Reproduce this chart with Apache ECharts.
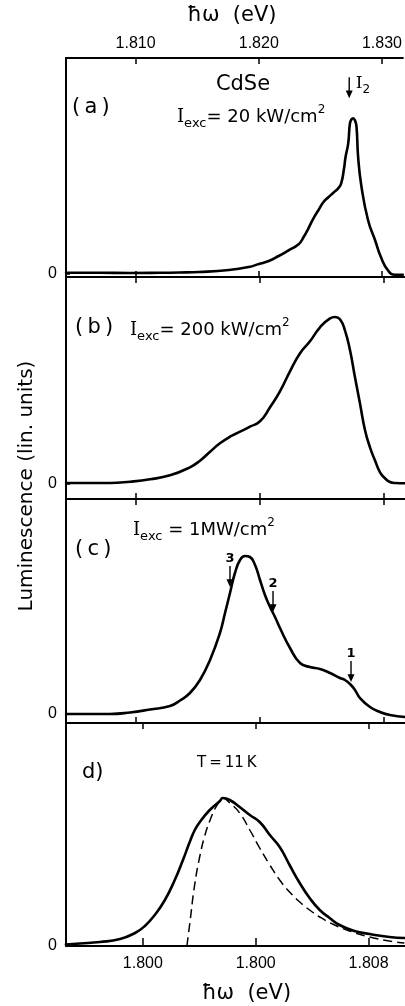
<!DOCTYPE html>
<html>
<head>
<meta charset="utf-8">
<title>CdSe luminescence</title>
<script src="https://cdn.jsdelivr.net/npm/echarts@6/dist/echarts.min.js"></script>
<style>
html, body { margin: 0; padding: 0; background: #fff; }
#chart { width: 405px; height: 1006px; }
</style>
</head>
<body>
<div id="chart"></div>
<script>
// energy scales (eV): panels a-c share the top scale, panel d has its own
const topTicks = [1.810, 1.820, 1.830];
const topTickLabels = ['1.810', '1.820', '1.830'];
const bottomTicks = [1.800, 1.804, 1.808];
const bottomTickLabels = ['1.800', '1.800', '1.808'];

// (a) Iexc = 20 kW/cm2
const energyA = [1.80436, 1.80710, 1.80952, 1.81194, 1.81355, 1.81516, 1.81758, 1.81919, 1.82000, 1.82081,
    1.82161, 1.82242, 1.82323, 1.82363, 1.82403, 1.82444, 1.82484, 1.82524, 1.82565, 1.82605,
    1.82645, 1.82669, 1.82691, 1.82704, 1.82726, 1.82740, 1.82753, 1.82766, 1.82780, 1.82793,
    1.82806, 1.82833, 1.82887, 1.82944, 1.82992, 1.83048, 1.83105, 1.83169];
const lumA = [0.5, 0.5, 0.3, 0.5, 0.8, 1.3, 3.3, 6.3, 9.3, 12.3,
    17.3, 23, 29, 36, 45, 55, 63, 71, 76, 80.5,
    85, 90, 104, 116, 130, 150, 154, 155, 153, 147,
    117, 87, 53, 33, 16, 3, -1.5, -1.5];

// (b) Iexc = 200 kW/cm2
const energyB = [1.80436, 1.80790, 1.80952, 1.81113, 1.81274, 1.81435, 1.81516, 1.81597, 1.81677, 1.81758,
    1.81839, 1.81919, 1.82000, 1.82081, 1.82161, 1.82242, 1.82323, 1.82403, 1.82484, 1.82565,
    1.82605, 1.82645, 1.82685, 1.82726, 1.82766, 1.82806, 1.82847, 1.82887, 1.82927, 1.82968,
    1.83008, 1.83048, 1.83089, 1.83169];
const lumB = [0.3, 0.3, 1.6, 4, 8, 16, 22.6, 31.6, 40, 46.6,
    51.6, 56.6, 62, 76, 92, 112, 130, 142, 156, 165,
    166.3, 164, 153, 133, 106, 80, 53, 36, 23, 11,
    5, 1.3, 0.3, 0];

// (c) Iexc = 1 MW/cm2
const energyC = [1.80436, 1.80790, 1.80952, 1.81113, 1.81274, 1.81355, 1.81435, 1.81516, 1.81597, 1.81677,
    1.81718, 1.81758, 1.81798, 1.81839, 1.81879, 1.81919, 1.81960, 1.82000, 1.82040, 1.82081,
    1.82121, 1.82161, 1.82242, 1.82323, 1.82403, 1.82484, 1.82565, 1.82645, 1.82685, 1.82726,
    1.82766, 1.82806, 1.82887, 1.82968, 1.83048, 1.83169];
const lumC = [0, 0, 1.5, 4.5, 8, 13.5, 21, 34, 54, 81,
    101, 121, 141, 154, 158, 157, 149, 134, 119, 107,
    97, 86, 66, 51, 47, 45, 41, 36, 34, 30,
    24, 16, 7, 2, -1, -3];
// arrows in (c): label, energy, luminescence at the arrow tip
const arrowLabelsC = ['3', '2', '1'];
const arrowEnergyC = [1.81758, 1.82105, 1.82734];
const arrowLumC = [127, 102, 32];
// I2 arrow in (a)
const arrowEnergyA = 1.82734;
const arrowLumA = 175;

// (d) T = 11 K, measured (solid) and fit (dashed)
const energyD = [1.79727, 1.79777, 1.79848, 1.79919, 1.79972, 1.80007, 1.80042, 1.80078, 1.80113, 1.80142,
    1.80166, 1.80184, 1.80202, 1.80237, 1.80273, 1.80283, 1.80308, 1.80343, 1.80379, 1.80414,
    1.80450, 1.80485, 1.80520, 1.80556, 1.80591, 1.80627, 1.80662, 1.80697, 1.80750, 1.80804,
    1.80874, 1.80927];
const lumD = [1.5, 2.5, 4, 7, 13, 20, 31, 46, 66, 86,
    104, 116, 124, 136, 145, 148, 146, 139, 131, 124,
    111, 99, 81, 63, 48, 36, 28, 21, 15, 12,
    9, 8];
const energyDFit = [1.80156, 1.80166, 1.80184, 1.80202, 1.80219, 1.80237, 1.80255, 1.80273, 1.80283, 1.80308,
    1.80343, 1.80379, 1.80414, 1.80450, 1.80485, 1.80520, 1.80556, 1.80591, 1.80627, 1.80680,
    1.80733, 1.80804, 1.80874, 1.80927];
const lumDFit = [0, 22, 62, 90, 110, 125, 137, 145, 148, 143,
    133, 116, 98, 81, 66, 54, 44, 36, 29, 21,
    15, 9, 5, 3];

const SANS = '"DejaVu Sans", sans-serif';
const NUM = '"Liberation Sans", Arial, sans-serif';
const SERIF = '"DejaVu Serif", serif';
const ARROW = 'path://M4,0 L6,0 L6,15 L10,15 L5,24 L0,15 L4,15 Z';

function zip(xs, ys) {
    return xs.map((x, i) => [x, ys[i]]);
}

function labelFor(ticks, labels) {
    return function (v) {
        let i = ticks.findIndex(t => Math.abs(t - v) < 1e-7);
        return i < 0 ? '' : labels[i];
    };
}

// one horizontal energy axis on a panel edge
function energyAxis(grid, position, scale, extra) {
    let ticks = scale === 'top' ? topTicks : bottomTicks;
    let labels = scale === 'top' ? topTickLabels : bottomTickLabels;
    let range = scale === 'top' ? [1.804355, 1.831694] : [1.797274, 1.809292];
    return Object.assign({
        type: 'value',
        gridIndex: grid,
        position: position,
        min: range[0],
        max: range[1],
        axisLine: {show: true, onZero: false, lineStyle: {color: '#000', width: 2}},
        axisTick: {show: true, inside: true, length: 6, customValues: ticks, lineStyle: {color: '#000', width: 1.5}},
        axisLabel: {show: false, customValues: ticks, formatter: labelFor(ticks, labels)},
        splitLine: {show: false}
    }, extra || {});
}

function lumAxis(grid, min, max) {
    return {
        type: 'value',
        gridIndex: grid,
        min: min,
        max: max,
        axisLine: {show: true, onZero: false, lineStyle: {color: '#000', width: 2}},
        axisTick: {show: true, inside: true, length: 4, customValues: [0], lineStyle: {color: '#000', width: 1.5}},
        axisLabel: {show: true, customValues: [0], formatter: '0', margin: 9, color: '#000', fontSize: 16, fontFamily: NUM},
        splitLine: {show: false}
    };
}

function iexc(value) {
    return '{i|I}{sub|exc}{n|' + value + '}{sup|2}';
}

const iexcRich = {
    i: {fontFamily: SERIF, fontSize: 18, lineHeight: 26, verticalAlign: 'middle', color: '#000'},
    sub: {fontFamily: SANS, fontSize: 13, verticalAlign: 'bottom', color: '#000'},
    n: {fontFamily: SANS, fontSize: 18, lineHeight: 26, verticalAlign: 'middle', color: '#000'},
    sup: {fontFamily: SANS, fontSize: 12, verticalAlign: 'top', color: '#000'}
};

function note(x, y, text, size, extra) {
    return {
        type: 'text', x: x, y: y, silent: true,
        style: Object.assign({
            text: text, fill: '#000', fontFamily: SANS, fontSize: size,
            align: 'left', verticalAlign: 'middle'
        }, extra || {})
    };
}

function curve(idx, data, dashed) {
    return {
        type: 'line',
        xAxisIndex: idx * 2,
        yAxisIndex: idx,
        data: data,
        showSymbol: false,
        smooth: 0.5,
        silent: true,
        lineStyle: dashed
            ? {color: '#000', width: 1.5, type: [9, 5]}
            : {color: '#000', width: 2.6, join: 'round', cap: 'round'}
    };
}

let chart = echarts.init(document.getElementById('chart'));

let seriesA = curve(0, zip(energyA, lumA));
seriesA.markPoint = {
    symbol: ARROW,
    symbolSize: [7, 21],
    symbolOffset: [0, '-50%'],
    silent: true,
    itemStyle: {color: '#000'},
    label: {
        show: true, position: 'right', distance: 3, offset: [0, -4],
        formatter: '{i|I}{sub|2}',
        rich: {
            i: {fontFamily: SERIF, fontSize: 17, lineHeight: 24, verticalAlign: 'middle', color: '#000'},
            sub: {fontFamily: SANS, fontSize: 12, verticalAlign: 'bottom', color: '#000'}
        }
    },
    data: [{name: 'I2', coord: [arrowEnergyA, arrowLumA]}]
};

let seriesC = curve(2, zip(energyC, lumC));
seriesC.markPoint = {
    symbol: ARROW,
    symbolSize: [7, 21],
    symbolOffset: [0, '-50%'],
    silent: true,
    itemStyle: {color: '#000'},
    label: {
        show: true, position: 'top', distance: 1,
        color: '#000', fontSize: 13, fontWeight: 'bold', fontFamily: SANS,
        formatter: p => p.name
    },
    data: arrowLabelsC.map((l, i) => ({name: l, coord: [arrowEnergyC[i], arrowLumC[i]]}))
};

let option = {
    backgroundColor: '#fff',
    animation: false,
    grid: [
        {left: 66, right: 0, top: 58, height: 219},
        {left: 66, right: 0, top: 277, height: 222},
        {left: 66, right: 0, top: 499, height: 224},
        {left: 66, right: 0, top: 723, height: 223}
    ],
    xAxis: [
        energyAxis(0, 'top', 'top', {
            axisLabel: {show: true, customValues: topTicks, formatter: labelFor(topTicks, topTickLabels),
                margin: 6, color: '#000', fontSize: 16, fontFamily: NUM},
            name: 'ħω  (eV)', nameLocation: 'middle', nameGap: 32,
            nameTextStyle: {color: '#000', fontSize: 21, fontFamily: SANS, padding: [0, 5, 0, 0]}
        }),
        energyAxis(0, 'bottom', 'top'),
        energyAxis(1, 'top', 'top'),
        energyAxis(1, 'bottom', 'top'),
        energyAxis(2, 'top', 'top'),
        energyAxis(2, 'bottom', 'top'),
        energyAxis(3, 'top', 'bottom'),
        energyAxis(3, 'bottom', 'bottom', {
            axisTick: {show: true, inside: true, length: 8, customValues: bottomTicks, lineStyle: {color: '#000', width: 1.5}},
            axisLabel: {show: true, customValues: bottomTicks, formatter: labelFor(bottomTicks, bottomTickLabels),
                margin: 10, color: '#000', fontSize: 16, fontFamily: NUM},
            name: 'ħω  (eV)', nameLocation: 'middle', nameGap: 37,
            nameTextStyle: {color: '#000', fontSize: 21, fontFamily: SANS, padding: [0, 0, 0, 22]}
        })
    ],
    yAxis: [
        lumAxis(0, -3.7, 215.3),
        lumAxis(1, -15.7, 206.3),
        lumAxis(2, -9, 215),
        lumAxis(3, 0, 223)
    ],
    series: [
        seriesA,
        curve(1, zip(energyB, lumB)),
        seriesC,
        curve(3, zip(energyD, lumD)),
        curve(3, zip(energyDFit, lumDFit), true)
    ],
    graphic: [
        note(27, 486, 'Luminescence (lin. units)', 20, {align: 'center'}),
        note(243, 85, 'CdSe', 21, {align: 'center'}),
        note(72, 108, '(\u2009a\u2009)', 21),
        note(177, 117, iexc('= 20 kW/cm'), 18, {rich: iexcRich}),
        note(75, 328, '(\u2009b\u2009)', 21),
        note(130, 330, iexc('= 200 kW/cm'), 18, {rich: iexcRich}),
        note(133, 530, iexc(' = 1MW/cm'), 18, {rich: iexcRich}),
        note(75, 550, '(\u2009c\u2009)', 21),
        note(82, 773, 'd)', 21),
        note(197, 763, 'T\u2009=\u200911\u2009K', 15)
    ]
};
// rotate the y title
option.graphic[0].rotation = Math.PI / 2;

chart.setOption(option);
</script>
</body>
</html>
